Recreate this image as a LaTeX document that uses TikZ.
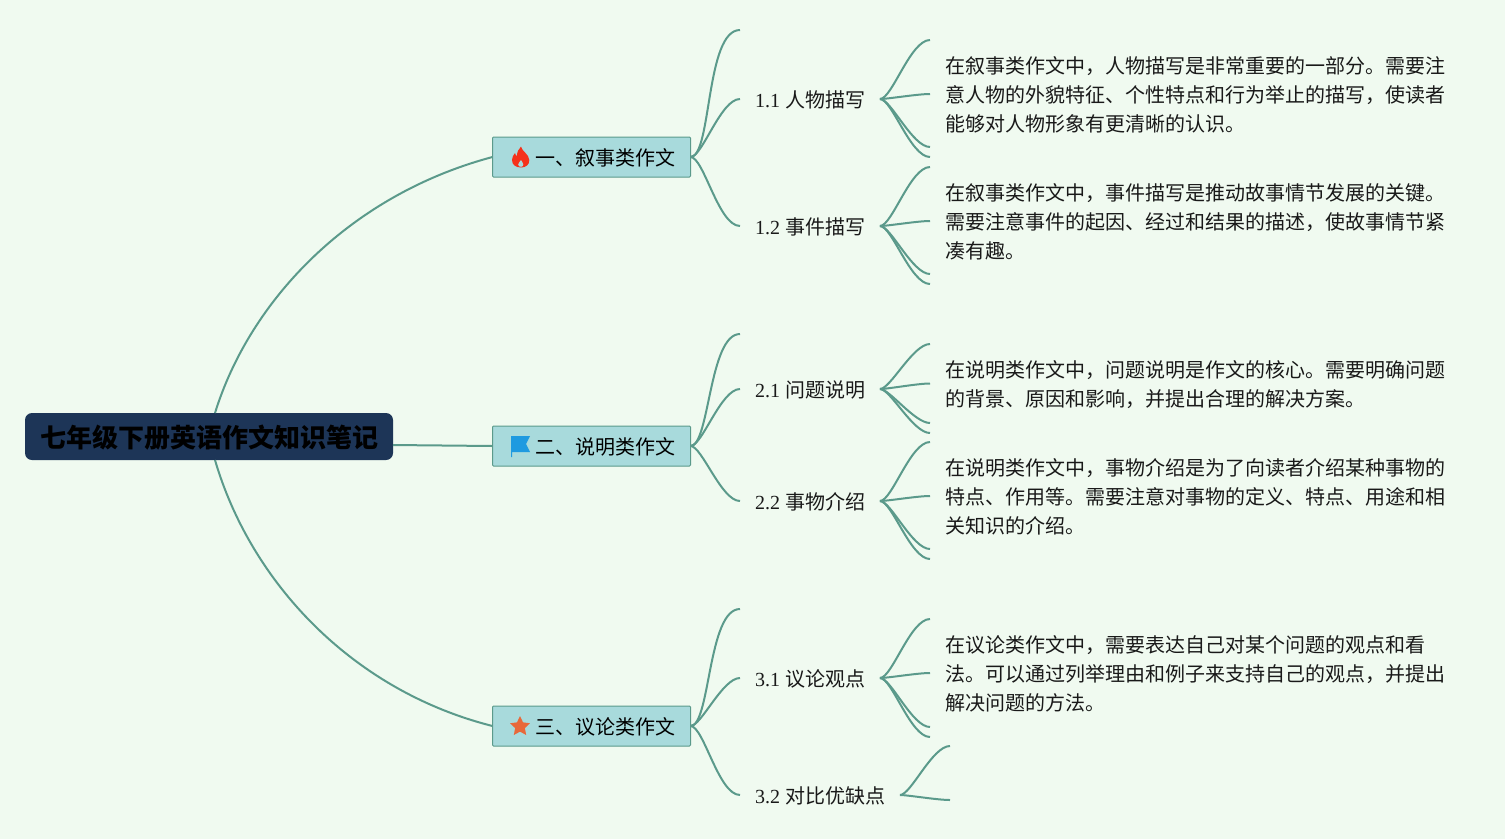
\documentclass[tikz,border=0pt]{standalone}
\usepackage{fontspec}
\setmainfont{Liberation Serif}
\newfontfamily\cjk{Noto Sans CJK SC}
\usetikzlibrary{shapes.geometric}
\definecolor{fondo}{HTML}{F0FAF0}
\definecolor{linea}{HTML}{5B9A8B}
\definecolor{raiz}{HTML}{1D3557}
\definecolor{caja}{HTML}{A8DADC}
\definecolor{llama}{HTML}{F5311A}
\definecolor{bandera}{HTML}{1E9AE0}
\definecolor{estrella}{HTML}{E8683A}
\tikzset{
    rootbox/.style={fill=raiz,rounded corners=7pt,minimum width=368pt,minimum height=47pt,inner sep=0pt,outer sep=0pt,text=black,text height=25pt,text depth=3.2pt,font=\fontsize{26}{30}\selectfont\cjk\bfseries},
    branchbox/.style={fill=caja,draw=linea,line width=1pt,rounded corners=1pt,minimum height=40pt,inner ysep=0pt,inner xsep=15pt,outer sep=0pt,text=black,text height=19.6pt,text depth=2pt,font=\fontsize{20}{24}\selectfont\cjk},
    subnode/.style={anchor=west,inner xsep=15pt,inner ysep=0pt,outer sep=0pt,text=black!90,text height=19.2pt,text depth=2pt,font=\fontsize{20}{24}\selectfont},
    textnode/.style={anchor=west,align=left,inner xsep=15pt,inner ysep=0pt,outer sep=0pt,text=black!90,font=\fontsize{20}{29}\selectfont\cjk},
    link/.style={draw=linea,line width=2pt},
    rama/.style={out=0,in=180,out looseness=.4,in looseness=.65},
}
\begin{document}
\begin{tikzpicture}[x=1pt,y=-1pt]
        % Fondo
        \fill[fondo] (0,0) rectangle (1505,839);
        \useasboundingbox (0,0) rectangle (1505,839);

        % Nodos principales
        \node[rootbox] (root) at (209,436.5) {七年级下册英语作文知识笔记};
        \node[branchbox] (b1) at (591.5,157) {\hspace*{28pt}一、叙事类作文};
        \node[branchbox] (b2) at (591.5,446) {\hspace*{28pt}二、说明类作文};
        \node[branchbox] (b3) at (591.5,726) {\hspace*{28pt}三、议论类作文};

        % Subtemas
        \node[subnode] (s11) at (740,99) {1.1 {\cjk 人物描写}};
        \node[subnode] (s12) at (740,226) {1.2 {\cjk 事件描写}};
        \node[subnode] (s21) at (740,389) {2.1 {\cjk 问题说明}};
        \node[subnode] (s22) at (740,501) {2.2 {\cjk 事物介绍}};
        \node[subnode] (s31) at (740,678) {3.1 {\cjk 议论观点}};
        \node[subnode] (s32) at (740,795) {3.2 {\cjk 对比优缺点}};

        % Textos
        \node[textnode] (t11) at (930,95) {在叙事类作文中，人物描写是非常重要的一部分。需要注\\意人物的外貌特征、个性特点和行为举止的描写，使读者\\能够对人物形象有更清晰的认识。};
        \node[textnode] (t12) at (930,222) {在叙事类作文中，事件描写是推动故事情节发展的关键。\\需要注意事件的起因、经过和结果的描述，使故事情节紧\\凑有趣。};
        \node[textnode] (t21) at (930,384.5) {在说明类作文中，问题说明是作文的核心。需要明确问题\\的背景、原因和影响，并提出合理的解决方案。};
        \node[textnode] (t22) at (930,497) {在说明类作文中，事物介绍是为了向读者介绍某种事物的\\特点、作用等。需要注意对事物的定义、特点、用途和相\\关知识的介绍。};
        \node[textnode] (t31) at (930,674) {在议论类作文中，需要表达自己对某个问题的观点和看\\法。可以通过列举理由和例子来支持自己的观点，并提出\\解决问题的方法。};

        % Extremos libres
        \coordinate (e1) at (740,30);
        \coordinate (e2) at (740,334);
        \coordinate (e3) at (740,609);
        \coordinate (e11a) at (930,40);
        \coordinate (e11b) at (930,147);
        \coordinate (e11c) at (930,157);
        \coordinate (e12a) at (930,167);
        \coordinate (e12b) at (930,274);
        \coordinate (e12c) at (930,284);
        \coordinate (e21a) at (930,344);
        \coordinate (e21b) at (930,423);
        \coordinate (e21c) at (930,433);
        \coordinate (e22a) at (930,442);
        \coordinate (e22b) at (930,549);
        \coordinate (e22c) at (930,559);
        \coordinate (e31a) at (930,619);
        \coordinate (e31b) at (930,727);
        \coordinate (e31c) at (930,737);
        \coordinate (e32a) at (950,746);
        \coordinate (e32b) at (950,800);

        % Conectar la raiz
        \draw[link] ([xshift=6pt]root.north) .. controls (250,300) and (350,195) .. (b1.west);
        \draw[link] ([yshift=-8.5pt]root.east) -- (b2.west);
        \draw[link] ([xshift=6pt]root.south) .. controls (250,580) and (350,690) .. (b3.west);

        % Conectar las ramas
        \draw[link] (b1.east) to[rama] (e1);
        \draw[link] (b1.east) to[rama] (s11.west);
        \draw[link] (b1.east) to[rama] (s12.west);
        \draw[link] (b2.east) to[rama] (e2);
        \draw[link] (b2.east) to[rama] (s21.west);
        \draw[link] (b2.east) to[rama] (s22.west);
        \draw[link] (b3.east) to[rama] (e3);
        \draw[link] (b3.east) to[rama] (s31.west);
        \draw[link] (b3.east) to[rama] (s32.west);

        % Conectar los subtemas
        \draw[link] (s11.east) to[rama] (e11a);
        \draw[link] (s11.east) to[rama] ([yshift=1pt]t11.west);
        \draw[link] (s11.east) to[rama] (e11b);
        \draw[link] (s11.east) to[rama] (e11c);
        \draw[link] (s12.east) to[rama] (e12a);
        \draw[link] (s12.east) to[rama] ([yshift=1pt]t12.west);
        \draw[link] (s12.east) to[rama] (e12b);
        \draw[link] (s12.east) to[rama] (e12c);
        \draw[link] (s21.east) to[rama] (e21a);
        \draw[link] (s21.east) to[rama] ([yshift=1pt]t21.west);
        \draw[link] (s21.east) to[rama] (e21b);
        \draw[link] (s21.east) to[rama] (e21c);
        \draw[link] (s22.east) to[rama] (e22a);
        \draw[link] (s22.east) to[rama] ([yshift=1pt]t22.west);
        \draw[link] (s22.east) to[rama] (e22b);
        \draw[link] (s22.east) to[rama] (e22c);
        \draw[link] (s31.east) to[rama] (e31a);
        \draw[link] (s31.east) to[rama] ([yshift=1pt]t31.west);
        \draw[link] (s31.east) to[rama] (e31b);
        \draw[link] (s31.east) to[rama] (e31c);
        \draw[link] (s32.east) to[rama] (e32a);
        \draw[link] (s32.east) to[rama] (e32b);

        % Iconos
        \begin{scope}[shift={(520.5,157)}]
            \fill[llama] (0.5,-10.5) .. controls (1,-6) and (8.5,-3) .. (8.8,3) .. controls (9,8) and (5,10.5) .. (0.5,10.5) .. controls (-4.5,10.5) and (-8.5,8) .. (-8.5,3) .. controls (-8.5,0) and (-7,-2) .. (-5.5,-4) .. controls (-5,-2) and (-4.5,-1.5) .. (-3.5,-1) .. controls (-3.5,-5) and (-2,-8) .. (0.5,-10.5) -- cycle;
            \fill[caja] (0.5,3) .. controls (1.2,4.5) and (2.8,6) .. (2.8,7.5) .. controls (2.8,9) and (1.8,9.8) .. (0.5,9.8) .. controls (-1,9.8) and (-2.3,9) .. (-2.3,7.5) .. controls (-2.3,6) and (-0.2,4.5) .. (0.5,3) -- cycle;
        \end{scope}
        \fill[bandera] (511,436) -- (530,436) -- (526,444) -- (530,452) -- (512,452) -- (512,457) -- (511,457) -- cycle;
        \node[star,star points=5,star point ratio=2.05,fill=estrella,inner sep=0pt,minimum size=21pt] (icono3) at (520,726.5) {};
    \end{tikzpicture}
\end{document}
